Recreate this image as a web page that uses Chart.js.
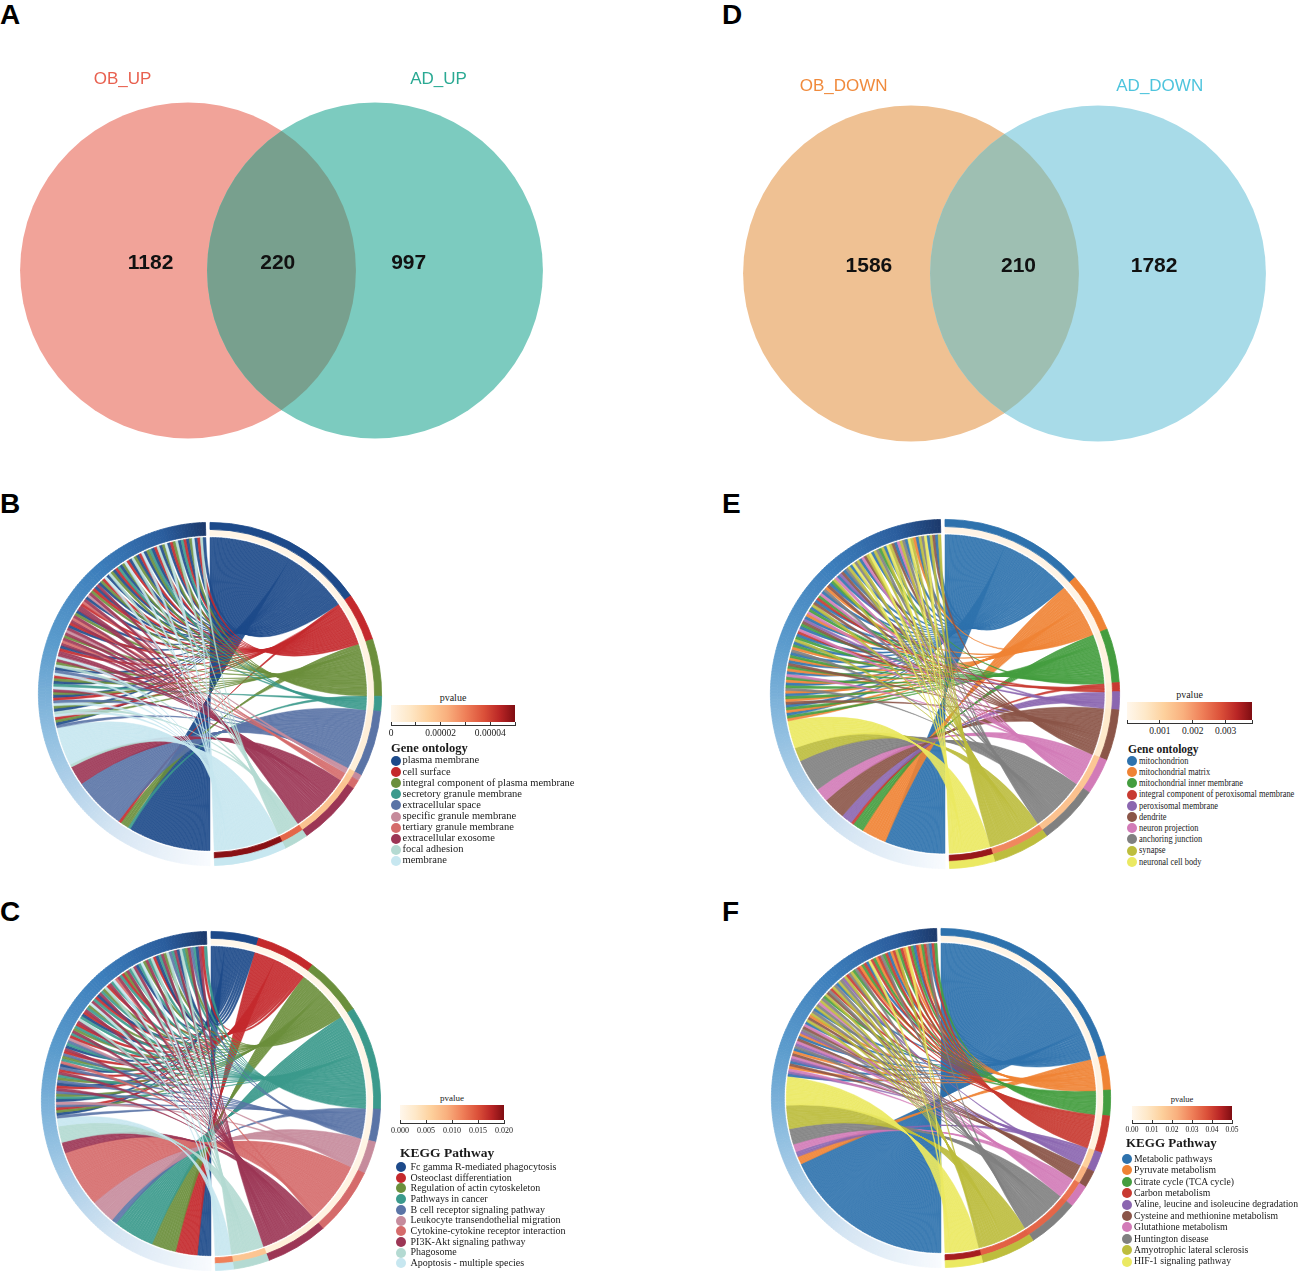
<!DOCTYPE html>
<html>
<head>
<meta charset="utf-8">
<script src="https://cdn.jsdelivr.net/npm/chart.js@4.4.1/dist/chart.umd.min.js"></script>
<style>
  body { margin: 0; background: #fff; }
  #page { position: relative; width: 1299px; height: 1272px; overflow: hidden; font-family: "Liberation Sans", Arial, sans-serif; }
  .tag { position: absolute; font-weight: bold; font-size: 28px; line-height: 28px; color: #000; }
  canvas { position: absolute; }
  .lg { position: absolute; font-family: "Liberation Serif", "Times New Roman", serif; color: #1a1a1a; white-space: nowrap; }
</style>
</head>
<body>
<div id="page">
  <div class="tag" style="left:0;top:1px">A</div>
  <div class="tag" style="left:722px;top:1px">D</div>
  <div class="tag" style="left:0;top:490px">B</div>
  <div class="tag" style="left:722px;top:490px">E</div>
  <div class="tag" style="left:0;top:898px">C</div>
  <div class="tag" style="left:722px;top:898px">F</div>

  <canvas id="vennUp" width="561" height="449" style="left:1px;top:46px;width:561px;height:449px"></canvas>
  <canvas id="vennDown" width="561" height="449" style="left:724px;top:49px;width:561px;height:449px"></canvas>
  <canvas id="chordB" width="350" height="350" style="left:35px;top:519px;width:350px;height:350px"></canvas>
  <canvas id="chordC" width="344" height="344" style="left:39px;top:929px;width:344px;height:344px"></canvas>
  <canvas id="chordE" width="354" height="354" style="left:768px;top:517px;width:354px;height:354px"></canvas>
  <canvas id="chordF" width="344" height="344" style="left:769px;top:926px;width:344px;height:344px"></canvas>
</div>

<script>
// ---- Venn counts (left only, shared, right only) ----
const vennUpSets = ["OB_UP", "AD_UP"];
const vennUpCounts = [1182, 220, 997];
const vennDownSets = ["OB_DOWN", "AD_DOWN"];
const vennDownCounts = [1586, 210, 1782];

// ---- B: GO terms of shared up genes ----
const goUpTerms = ["plasma membrane", "cell surface", "integral component of plasma membrane",
  "secretory granule membrane", "extracellular space", "specific granule membrane",
  "tertiary granule membrane", "extracellular exosome", "focal adhesion", "membrane"];
const goUpPvalues = [0.000001, 0.000002, 0.000002, 0.000003, 0.000004, 0.000016, 0.000017, 0.000018, 0.000034, 0.000049];
// genes with one term: [term, gene count], from the bottom of the circle upward
const goUpBlocks = [[0, 30], [3, 1], [2, 3], [1, 1], [4, 19], [7, 7], [8, 1], [9, 13]];
// genes with several terms: one entry per gene-term link
const goUpShared = [9,4,0,2,1,9,8,0,2,9,4,1,0,2,7,9,3,0,2,1,9,4,0,8,2,7,9,
  7,7,1,0,7,6,7,2,7,5,7,0,1,7,6,7,2,0,7,7,1,6,7,0,5,7,2,1,0,7,
  0,2,1,9,0,8,2,0,1,3,0,2,9,1,0,8,2,0,1,9,0,2,3,0,1,8,0,2,9,0,1,2,8,0,3,1,0,2,9,0,1,8,0];
const goUpTicks = [0, 0.00001, 0.00002, 0.00003, 0.00004, 0.00005];
const goUpTickLabels = ["0", "", "0.00002", "", "0.00004", ""];

// ---- C: KEGG pathways of shared up genes ----
const keggUpTerms = ["Fc gamma R-mediated phagocytosis", "Osteoclast differentiation", "Regulation of actin cytoskeleton",
  "Pathways in cancer", "B cell receptor signaling pathway", "Leukocyte transendothelial migration",
  "Cytokine-cytokine receptor interaction", "PI3K-Akt signaling pathway", "Phagosome", "Apoptosis - multiple species"];
const keggUpPvalues = [0.0001, 0.0002, 0.0003, 0.0004, 0.0005, 0.0006, 0.0008, 0.0015, 0.007, 0.012];
const keggUpBlocks = [[0, 5], [1, 8], [2, 9], [3, 15], [4, 2], [5, 9], [6, 21], [7, 4], [8, 6], [9, 3]];
const keggUpShared = [4,0,2,1,4,5,0,3,2,4,7,1,0,4,2,3,7,1,4,0,6,3,2,4,1,7,0,3,4,5,
  1,3,7,2,3,1,7,8,3,0,1,7,3,2,9,7,3,1,0,7,3,2,8,1,7,3,9,6,7,3,1,2,7,
  3,8,7,0,3,9,2,7,3,8,1,0,3,7,2,8,4,3,7,0,8,3,2,7,4,3,0,7,1,3];
const keggUpTicks = [0, 0.005, 0.010, 0.015, 0.020];
const keggUpTickLabels = ["0.000", "0.005", "0.010", "0.015", "0.020"];

// ---- E: GO terms of shared down genes ----
const goDownTerms = ["mitochondrion", "mitochondrial matrix", "mitochondrial inner membrane",
  "integral component of peroxisomal membrane", "peroxisomal membrane", "dendrite", "neuron projection",
  "anchoring junction", "synapse", "neuronal cell body"];
const goDownPvalues = [0.0001, 0.0001, 0.0002, 0.0003, 0.0004, 0.0005, 0.0013, 0.0014, 0.0022, 0.0036];
const goDownBlocks = [[0, 22], [1, 9], [2, 4], [3, 1], [4, 4], [5, 8], [6, 5], [7, 12], [8, 5], [9, 10]];
const goDownShared = [1,2,0,1,2,0,5,1,2,0,1,7,2,0,1,2,6,0,1,2,5,0,1,2,0,7,1,2,0,8,
  2,0,3,6,0,2,5,4,0,1,6,2,0,8,5,0,3,2,6,0,7,1,5,0,2,8,6,0,4,5,0,7,
  8,0,9,7,8,0,6,5,8,9,0,8,7,2,8,0,9,8,5,0,6,8,7,0,9,8,1,0,8,7,9,0,8,5,0,8];
const goDownTicks = [0, 0.001, 0.002, 0.003, 0.0038];
const goDownTickLabels = ["", "0.001", "0.002", "0.003", ""];

// ---- F: KEGG pathways of shared down genes ----
const keggDownTerms = ["Metabolic pathways", "Pyruvate metabolism", "Citrate cycle (TCA cycle)", "Carbon metabolism",
  "Valine, leucine and isoleucine degradation", "Cysteine and methionine metabolism", "Glutathione metabolism",
  "Huntington disease", "Amyotrophic lateral sclerosis", "HIF-1 signaling pathway"];
const keggDownPvalues = [0.001, 0.002, 0.002, 0.003, 0.015, 0.022, 0.032, 0.034, 0.035, 0.046];
const keggDownBlocks = [[0, 66], [1, 3], [4, 2], [6, 3], [7, 6], [8, 9], [9, 11]];
const keggDownShared = [0,4,6,1,5,0,4,6,5,1,0,7,4,6,5,0,1,4,7,5,6,0,8,5,1,
  8,7,0,8,7,6,8,7,2,8,5,7,3,8,7,0,8,7,4,8,3,7,8,2,7,
  3,1,2,3,0,9,3,2,1,3,7,2,3,0,1,3,8,2,3,1,9,3,2,0,3,1,2,3,7,0,3,2];
const keggDownTicks = [0, 0.01, 0.02, 0.03, 0.04, 0.05];
const keggDownTickLabels = ["0.00", "0.01", "0.02", "0.03", "0.04", "0.05"];

// ---- colours ----
const paletteUp = ["#1d4a8a", "#c4292c", "#6b8f3c", "#3b9a8c", "#5a74a6", "#c68b9c", "#d56b6b", "#9c3655", "#b4dad2", "#c7e7f0"];
const paletteDown = ["#2e72ad", "#ef8334", "#449d3f", "#c83a31", "#8b66b0", "#8b5548", "#d27bb7", "#808080", "#bdbd3d", "#ebe962"];
const geneStops = [[0, "#f8fbfe"], [0.2, "#d5e5f3"], [0.42, "#92c0e1"], [0.6, "#5c9ccd"], [0.78, "#3b7dbb"], [0.92, "#2a5c9c"], [1, "#1b396b"]];
const pStops = [[0, "#fff7ec"], [0.15, "#fee8c8"], [0.3, "#fdd09c"], [0.45, "#f9b07e"], [0.6, "#ef8059"], [0.75, "#db5039"], [0.88, "#b92525"], [1, "#7f0d12"]];

function hexRgb(h) { return [1, 3, 5].map(i => parseInt(h.slice(i, i + 2), 16)); }
function ramp(stops, t) {
  t = Math.max(0, Math.min(1, t));
  for (let i = 1; i < stops.length; i++) {
    if (t <= stops[i][0]) {
      const [t0, c0] = stops[i - 1], [t1, c1] = stops[i];
      const f = (t - t0) / (t1 - t0), a = hexRgb(c0), b = hexRgb(c1);
      return "rgb(" + a.map((v, k) => Math.round(v + (b[k] - v) * f)).join(",") + ")";
    }
  }
  return stops[stops.length - 1][1];
}

// ---- Venn: two bubbles, the overlap painted by clipping one to the other ----
const vennPaint = {
  id: "vennPaint",
  afterDatasetsDraw(chart, args, o) {
    const [a, b] = chart.getDatasetMeta(0).data;
    const ctx = chart.ctx, sx = chart.scales.x, sy = chart.scales.y;
    ctx.save();
    ctx.beginPath(); ctx.arc(a.x, a.y, a.options.radius, 0, Math.PI * 2); ctx.clip();
    ctx.beginPath(); ctx.arc(b.x, b.y, b.options.radius, 0, Math.PI * 2);
    ctx.fillStyle = o.overlap; ctx.fill();
    ctx.restore();
    ctx.save();
    ctx.textAlign = "center"; ctx.textBaseline = "middle";
    ctx.font = "bold 21px 'Liberation Sans', Arial, sans-serif"; ctx.fillStyle = "#111";
    o.counts.forEach((n, i) => ctx.fillText(String(n), sx.getPixelForValue(o.countX[i]), sy.getPixelForValue(0.04)));
    ctx.font = "17px 'Liberation Sans', Arial, sans-serif";
    o.sets.forEach((s, i) => { ctx.fillStyle = o.nameColors[i]; ctx.fillText(s, sx.getPixelForValue(o.nameX[i]), sy.getPixelForValue(o.nameY)); });
    ctx.restore();
  }
};

function makeVenn(id, sets, counts, fills, overlap, nameColors, countX, nameX, nameY) {
  const canvas = document.getElementById(id);
  const circleR = 0.898 * canvas.width / 3;   // x axis spans 3 units
  new Chart(canvas, {
    type: "bubble",
    data: { datasets: [{ data: [{ x: -0.5, y: 0 }, { x: 0.5, y: 0 }], backgroundColor: fills, borderWidth: 0,
      radius: circleR, hoverRadius: 0, clip: false }] },
    options: {
      responsive: false, animation: false, events: [],
      layout: { padding: 0, autoPadding: false },
      scales: { x: { type: "linear", min: -1.5, max: 1.5, display: false }, y: { type: "linear", min: -1.2, max: 1.2, display: false } },
      plugins: { legend: { display: false }, tooltip: { enabled: false },
        vennPaint: { overlap, counts, sets, nameColors, countX, nameX, nameY } }
    },
    plugins: [vennPaint]
  });
}

makeVenn("vennUp", vennUpSets, vennUpCounts, ["#f1a399", "#7ccbbf"], "#78a08e", ["#e8604f", "#2aa993"],
  [-0.70, -0.02, 0.68], [-0.85, 0.84], 1.02);
makeVenn("vennDown", vennDownSets, vennDownCounts, ["#efc193", "#a8dbe8"], "#9ebfb2", ["#f08a3c", "#4ec4dd"],
  [-0.725, 0.075, 0.80], [-0.86, 0.83], 1.0);

// ---- chord: doughnut rings + ribbons drawn between the ring arcs ----
const ribbons = {
  id: "ribbons",
  beforeDatasetsDraw(chart, args, o) {
    const arcs = chart.getDatasetMeta(1).data;
    const nT = o.sizes.length, ctx = chart.ctx;
    const cx = arcs[0].x, cy = arcs[0].y, r = arcs[0].innerRadius - 2;
    const used = o.sizes.map(() => 0);
    const pt = a => [cx + r * Math.cos(a), cy + r * Math.sin(a)];
    ctx.save();
    ctx.globalAlpha = 0.9;
    ctx.lineWidth = 0.5;
    o.links.forEach((t, i) => {
      const g = arcs[nT + 1 + i], term = arcs[t];
      const span = term.endAngle - term.startAngle;
      const b1 = term.startAngle + span * used[t] / o.sizes[t];
      const b2 = term.startAngle + span * (used[t] + 1) / o.sizes[t];
      used[t]++;
      const a1 = g.startAngle, a2 = g.endAngle;
      const p2 = pt(b2), p1 = pt(a1);
      ctx.beginPath();
      ctx.arc(cx, cy, r, a1, a2);
      ctx.quadraticCurveTo(cx, cy, p2[0], p2[1]);
      ctx.arc(cx, cy, r, b2, b1, true);
      ctx.quadraticCurveTo(cx, cy, p1[0], p1[1]);
      ctx.closePath();
      ctx.fillStyle = o.palette[t];
      ctx.strokeStyle = o.palette[t];
      ctx.fill();
      ctx.stroke();
    });
    ctx.restore();
  }
};

function makeChord(id, terms, pvalues, pmax, blocks, shared, palette, pad) {
  const links = [];
  blocks.forEach(([t, n]) => { for (let i = 0; i < n; i++) links.push(t); });
  shared.forEach(t => links.push(t));
  const sizes = terms.map((_, k) => links.filter(t => t === k).length);
  const gap = 1.5, clear = "rgba(0,0,0,0)";
  const values = [...sizes, gap, ...links.map(() => 1), gap];
  const geneCols = links.map((_, i) => ramp(geneStops, (i + 0.5) / links.length));
  const outer = [...palette, clear, ...geneCols, clear];
  const inner = [...pvalues.map(p => ramp(pStops, p / pmax)), clear, ...geneCols, clear];
  const labels = [...terms, "", ...links.map((_, i) => "gene " + (i + 1)), ""];
  new Chart(document.getElementById(id), {
    type: "doughnut",
    data: { labels, datasets: [
      { data: values, backgroundColor: outer, borderColor: outer, borderWidth: 0.8, weight: 7 },
      { data: values, backgroundColor: inner, borderColor: inner, borderWidth: 0.8, weight: 6 }
    ] },
    options: {
      responsive: false, animation: false, events: [], cutout: "92.4%",
      layout: { padding: pad },
      plugins: { legend: { display: false }, tooltip: { enabled: false }, ribbons: { sizes, links, palette } }
    },
    plugins: [ribbons]
  });
}

makeChord("chordB", goUpTerms, goUpPvalues, 0.00005, goUpBlocks, goUpShared, paletteUp, 3);
makeChord("chordC", keggUpTerms, keggUpPvalues, 0.020, keggUpBlocks, keggUpShared, paletteUp, 2);
makeChord("chordE", goDownTerms, goDownPvalues, 0.0038, goDownBlocks, goDownShared, paletteDown, 2);
makeChord("chordF", keggDownTerms, keggDownPvalues, 0.05, keggDownBlocks, keggDownShared, paletteDown, 2);

// ---- legends: pvalue colour bar + term list ----
function addLegend(L) {
  const page = document.getElementById("page");
  const el = (css, text) => {
    const d = document.createElement("div");
    d.className = "lg";
    d.style.cssText += css;
    if (text !== undefined) d.textContent = text;
    page.appendChild(d);
    return d;
  };
  const grad = "linear-gradient(to right," + pStops.map(s => s[1] + " " + (s[0] * 100) + "%").join(",") + ")";
  el(`left:${L.barX}px;top:${L.barY - L.pvSize - 3}px;width:${L.barW}px;text-align:center;font-size:${L.pvSize}px;line-height:${L.pvSize + 1}px`, "pvalue");
  el(`left:${L.barX}px;top:${L.barY}px;width:${L.barW}px;height:${L.barH}px;background:${grad}`);
  el(`left:${L.barX}px;top:${L.barY + L.barH + 3}px;width:${L.barW}px;height:1px;background:#333`);
  const max = L.ticks[L.ticks.length - 1];
  L.ticks.forEach((v, i) => {
    const x = L.barX + L.barW * v / max;
    el(`left:${x - 0.5}px;top:${L.barY + L.barH}px;width:1px;height:4px;background:#333`);
    if (L.tickLabels[i]) el(`left:${x - 30}px;top:${L.barY + L.barH + 6}px;width:60px;text-align:center;font-size:${L.tickSize}px;line-height:${L.tickSize + 1}px`, L.tickLabels[i]);
  });
  el(`left:${L.titleX}px;top:${L.titleY - L.titleSize * 0.6}px;font-weight:bold;font-size:${L.titleSize}px;line-height:${L.titleSize * 1.2}px`, L.title);
  L.terms.forEach((t, i) => {
    const y = L.itemY + i * L.step;
    el(`left:${L.dotX}px;top:${y - 5}px;width:10px;height:10px;border-radius:50%;background:${L.palette[i]}`);
    el(`left:${L.textX}px;top:${y - L.itemSize * 0.62}px;font-size:${L.itemSize}px;line-height:${L.itemSize * 1.2}px;transform-origin:left center;transform:scaleX(${L.squeeze})`, t);
  });
}

addLegend({ barX: 391, barY: 705, barW: 124, barH: 17, pvSize: 10, ticks: goUpTicks, tickLabels: goUpTickLabels, tickSize: 9.5,
  title: "Gene ontology", titleX: 391, titleY: 748, titleSize: 12.5, terms: goUpTerms, palette: paletteUp,
  itemY: 761, step: 11.1, dotX: 391, textX: 402.5, itemSize: 10.5, squeeze: 1 });
addLegend({ barX: 400, barY: 1105, barW: 104, barH: 15, pvSize: 9, ticks: keggUpTicks, tickLabels: keggUpTickLabels, tickSize: 8,
  title: "KEGG Pathway", titleX: 400, titleY: 1153, titleSize: 13.5, terms: keggUpTerms, palette: paletteUp,
  itemY: 1167, step: 10.7, dotX: 396, textX: 410.5, itemSize: 10, squeeze: 1 });
addLegend({ barX: 1127, barY: 702, barW: 125, barH: 18, pvSize: 10, ticks: goDownTicks, tickLabels: goDownTickLabels, tickSize: 9.5,
  title: "Gene ontology", titleX: 1128, titleY: 750, titleSize: 11.5, terms: goDownTerms, palette: paletteDown,
  itemY: 761, step: 11.2, dotX: 1127, textX: 1138.5, itemSize: 10, squeeze: 0.84 });
addLegend({ barX: 1132, barY: 1106, barW: 100, barH: 14, pvSize: 8.5, ticks: keggDownTicks, tickLabels: keggDownTickLabels, tickSize: 7.5,
  title: "KEGG Pathway", titleX: 1126, titleY: 1143, titleSize: 13, terms: keggDownTerms, palette: paletteDown,
  itemY: 1159, step: 11.4, dotX: 1122, textX: 1133.5, itemSize: 10, squeeze: 0.97 });
</script>
</body>
</html>
